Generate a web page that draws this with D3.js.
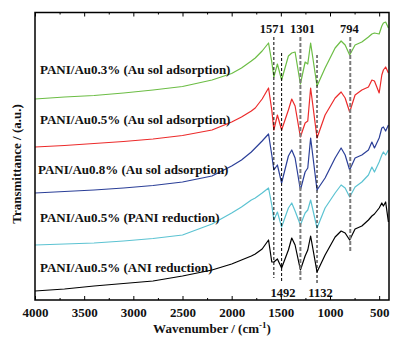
<!DOCTYPE html>
<html>
<head>
<meta charset="utf-8">
<script src="https://cdn.jsdelivr.net/npm/d3@7"></script>
<style>
  body { margin: 0; background: #fff; }
  text { font-family: "Liberation Serif", "Times New Roman", serif; font-weight: bold; font-size: 13px; fill: #111; }
</style>
</head>
<body>
<div id="chart"></div>
<script>
// wavenumber grid (cm-1) shared by all spectra
const wavenumbers = [4000, 3700, 3400, 3100, 2800, 2500, 2200, 2000, 1900, 1800, 1760, 1690, 1625, 1592, 1571, 1535, 1492, 1423, 1389, 1355, 1301, 1253, 1226, 1197, 1132, 1050, 948, 887, 846, 800, 745, 676, 609, 574, 548, 500, 473, 457, 434, 406];

// stacked transmittance (a.u., offset)
const au03 = [201, 203, 204.5, 207, 210, 213.5, 220, 226.5, 232, 239, 242, 249, 257, 238, 223, 236, 220, 244, 247, 248, 216, 238, 236, 257, 214, 232, 252, 259, 255, 245, 255, 258, 263, 266, 267, 266, 274, 277, 278, 272];
const au05 = [153, 154.5, 156.5, 158.5, 161, 164.5, 170, 178, 183, 189, 192, 201, 212, 190, 170, 185, 170, 190, 201, 194, 163, 177, 179, 212, 162, 185, 202, 208, 202, 188, 205, 210, 213, 220, 219, 207, 225, 230, 233, 227];
const au08 = [107, 108.5, 110, 112, 114.5, 118, 124, 134, 140, 148, 152, 159, 166, 145, 130, 135, 117, 144, 150, 142, 110, 128, 132, 162, 110, 122, 142, 152, 145, 130, 142, 145, 150, 158, 152, 162, 172, 173, 169, 175];
const pani05 = [55, 56, 57, 59, 61.5, 65, 76, 87, 93, 100, 102, 107, 112, 95, 80, 88, 73, 92, 97, 89, 75, 87, 90, 100, 72, 92, 107, 115, 112, 103, 113, 118, 125, 133, 128, 138, 145, 148, 145, 150];
const ani05 = [9, 11, 14, 16.5, 19, 24, 30, 36, 40, 44, 46, 51, 60, 38, 38, 41, 32, 50, 62, 55, 30, 44, 50, 64, 28, 45, 63, 69, 67, 60, 71, 74, 80, 84, 86, 92, 97, 94, 98, 78];

const seriesNames = ["PANI/Au0.3% (Au sol adsorption)", "PANI/Au0.5% (Au sol adsorption)", "PANI/Au0.8% (Au sol adsorption)", "PANI/Au0.5% (PANI reduction)", "PANI/Au0.5% (ANI reduction)"];
const seriesValues = [au03, au05, au08, pani05, ani05];
const seriesColors = ["#6cbd45", "#ec2b2b", "#2b3f98", "#5cc3d2", "#000000"];
const labelLevels = [226, 176, 126, 78, 28]; // label baseline in a.u.

const xTicks = [4000, 3500, 3000, 2500, 2000, 1500, 1000, 500];
const xMinor = d3.range(3750, 400, -500);

// marked bands
const peakTop = [1571, 1301, 794];
const peakBottom = [1492, 1132];
const peakLines = [
  { wn: 1571, y0: 263, y1: 22, grey: false },
  { wn: 1492, y0: 247, y1: 18, grey: false },
  { wn: 1301, y0: 263, y1: 20, grey: true },
  { wn: 1132, y0: 245, y1: 15, grey: false },
  { wn: 794, y0: 263, y1: 48, grey: true }
];

const width = 404, height = 340;
const margin = { left: 35, right: 15, top: 12.5, bottom: 40 };

const svg = d3.select("#chart").append("svg")
  .attr("width", width)
  .attr("height", height);

const x = d3.scaleLinear().domain([4000, 400]).range([margin.left, width - margin.right]);
const y = d3.scaleLinear().domain([0, 287.5]).range([height - margin.bottom, margin.top]);

// spectra
const line = d3.line()
  .x((d, i) => x(wavenumbers[i]))
  .y(d => y(d))
  .curve(d3.curveLinear);

svg.selectAll(".spectrum")
  .data(seriesValues)
  .enter()
  .append("path")
  .attr("class", "spectrum")
  .attr("d", d => line(d))
  .attr("fill", "none")
  .attr("stroke", (d, i) => seriesColors[i])
  .attr("stroke-width", 1.2)
  .attr("stroke-linejoin", "round");

// dashed band markers
svg.selectAll(".peak")
  .data(peakLines)
  .enter()
  .append("line")
  .attr("class", "peak")
  .attr("x1", d => x(d.wn)).attr("x2", d => x(d.wn))
  .attr("y1", d => y(d.y0)).attr("y2", d => y(d.y1))
  .attr("stroke", d => d.grey ? "#7a7a7a" : "#000")
  .attr("stroke-width", d => d.grey ? 2 : 1)
  .attr("stroke-dasharray", d => d.grey ? "4,2" : "3,2");

const topShift = [-1.5, 2, -1];
svg.selectAll(".peak-top")
  .data(peakTop)
  .enter()
  .append("text")
  .attr("x", (d, i) => x(d) + topShift[i])
  .attr("y", margin.top + 20.5)
  .attr("text-anchor", "middle")
  .style("font-size", "12.5px")
  .text(d => d);

svg.selectAll(".peak-bottom")
  .data(peakBottom)
  .enter()
  .append("text")
  .attr("x", (d, i) => x(d) + 1.5 + i * 2)
  .attr("y", height - margin.bottom - 3)
  .attr("text-anchor", "middle")
  .style("font-size", "12.5px")
  .text(d => d);

// series labels
svg.selectAll(".series-label")
  .data(seriesNames)
  .enter()
  .append("text")
  .attr("class", "series-label")
  .attr("x", (d, i) => i === 2 ? 38 : 40)
  .attr("y", (d, i) => y(labelLevels[i]))
  .text(d => d);

// axes: inward ticks, bottom and top
const bottomAxis = svg.append("g")
  .attr("transform", `translate(0,${height - margin.bottom})`)
  .call(d3.axisBottom(x).tickValues(xTicks).tickSize(-4).tickPadding(8).tickFormat(d3.format("d")));
bottomAxis.select(".domain").remove();

svg.append("g")
  .attr("transform", `translate(0,${height - margin.bottom})`)
  .call(d3.axisBottom(x).tickValues(xMinor).tickSize(-2).tickFormat(""))
  .select(".domain").remove();

svg.append("g")
  .attr("transform", `translate(0,${margin.top})`)
  .call(d3.axisTop(x).tickValues(xTicks).tickSize(-4).tickFormat(""))
  .select(".domain").remove();

svg.append("g")
  .attr("transform", `translate(0,${margin.top})`)
  .call(d3.axisTop(x).tickValues(xMinor).tickSize(-2).tickFormat(""))
  .select(".domain").remove();

svg.selectAll(".tick line").attr("stroke", "#000").attr("stroke-width", 1);

// frame
svg.append("rect")
  .attr("x", margin.left)
  .attr("y", margin.top)
  .attr("width", width - margin.left - margin.right)
  .attr("height", height - margin.top - margin.bottom)
  .attr("fill", "none")
  .attr("stroke", "#000")
  .attr("stroke-width", 1.5);

// axis titles
const xTitle = svg.append("text")
  .attr("x", (margin.left + width - margin.right) / 2)
  .attr("y", 333)
  .attr("text-anchor", "middle");
xTitle.append("tspan").text("Wavenumber / (cm");
xTitle.append("tspan").attr("dy", -5).style("font-size", "9px").text("-1");
xTitle.append("tspan").attr("dy", 5).text(")");

svg.append("text")
  .attr("transform", "translate(21,164) rotate(-90)")
  .attr("text-anchor", "middle")
  .text("Transmittance / (a.u.)");
</script>
</body>
</html>
